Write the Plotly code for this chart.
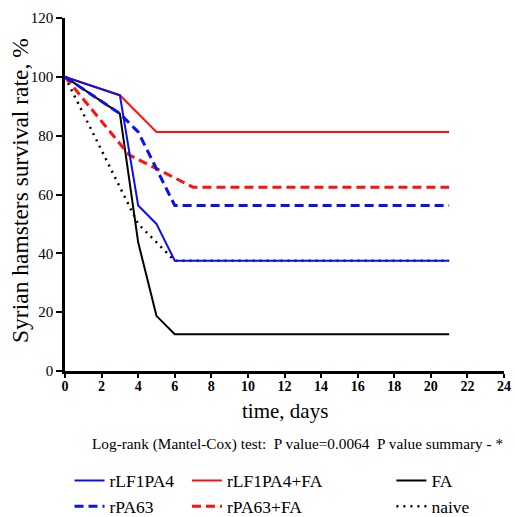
import plotly.graph_objects as go

# Survival curves (days, % surviving)
lf_days = [0, 3, 4, 5, 6, 21]
lf_surv = [100, 93.75, 56.25, 50, 37.5, 37.5]

lf_fa_days = [0, 3, 5, 21]
lf_fa_surv = [100, 93.75, 81.25, 81.25]

pa_days = [0, 3, 4, 6, 21]
pa_surv = [100, 87.5, 81.25, 56.25, 56.25]

pa_fa_days = [0, 3.5, 7, 21]
pa_fa_surv = [100, 73.5, 62.5, 62.5]

fa_days = [0, 3, 4, 5, 6, 21]
fa_surv = [100, 87.5, 43.75, 18.75, 12.5, 12.5]

naive_days = [0, 4, 6, 21]
naive_surv = [100, 50, 37.5, 37.5]

x_ticks = list(range(0, 25, 2))
y_ticks = list(range(0, 121, 20))

FONT = "Liberation Serif"
BLUE = "#0a10f0"
RED = "#ff1010"

fig = go.Figure()

def add(days, surv, name, color, width, dash, legend):
    fig.add_trace(go.Scatter(
        x=days, y=surv, name=name, mode="lines",
        line=dict(color=color, width=width, dash=dash),
        legend=legend, cliponaxis=False,
    ))

# draw order: dotted naive under the rest
add(naive_days, naive_surv, "naive", "black", 2.5, "2px,5px", "legend3")
add(fa_days, fa_surv, "FA", "black", 2, "solid", "legend3")
add(lf_fa_days, lf_fa_surv, "rLF1PA4+FA", RED, 2, "solid", "legend2")
add(pa_fa_days, pa_fa_surv, "rPA63+FA", RED, 3, "9px,5px", "legend2")
add(pa_days, pa_surv, "rPA63", BLUE, 3, "9px,5px", "legend")
add(lf_days, lf_surv, "rLF1PA4", BLUE, 2, "solid", "legend")


def legend_box(x, order):
    return dict(
        x=x, y=0.105, xref="container", yref="container",
        orientation="v", yanchor="top", xanchor="left",
        font=dict(family=FONT, size=17.5, color="black"),
        bgcolor="rgba(0,0,0,0)", borderwidth=0, tracegroupgap=0,
        traceorder=order,
    )


fig.update_layout(
    width=515, height=517,
    margin=dict(l=65, r=11, t=18, b=146, autoexpand=False),
    paper_bgcolor="white", plot_bgcolor="white",
    font=dict(family=FONT, color="black"),
    legend=legend_box(0.135, "reversed"),
    legend2=legend_box(0.363, "normal"),
    legend3=legend_box(0.76, "reversed"),
    xaxis=dict(
        range=[0, 24], tickvals=x_ticks, ticktext=[str(t) for t in x_ticks],
        showgrid=False, zeroline=False, showline=True, linecolor="black",
        linewidth=2.5, ticks="outside", ticklen=4, tickwidth=2,
        tickcolor="black", automargin=False, ticklabelstandoff=-4,
        tickfont=dict(family=FONT, size=14, color="black", weight="bold"),
    ),
    yaxis=dict(
        range=[0, 120], tickvals=y_ticks,
        showgrid=False, zeroline=False, showline=True, linecolor="black",
        linewidth=2.5, ticks="outside", ticklen=6, tickwidth=2,
        tickcolor="black", automargin=False,
        tickfont=dict(family=FONT, size=15, color="black"),
    ),
    annotations=[
        dict(text="Syrian hamsters survival rate, %",
             xref="paper", yref="paper", x=-0.1025, y=0.51, textangle=-90,
             xanchor="center", yanchor="middle", showarrow=False,
             font=dict(family=FONT, size=23.5, color="black")),
        dict(text="time, days",
             xref="paper", yref="paper", x=0.5, y=-0.112,
             xanchor="center", yanchor="middle", showarrow=False,
             font=dict(family=FONT, size=21, color="black")),
        dict(text="Log-rank (Mantel-Cox) test:  P value=0.0064  P value summary - *",
             xref="paper", yref="paper", x=0.056, y=-0.207,
             xanchor="left", yanchor="middle", showarrow=False,
             font=dict(family=FONT, size=15.3, color="black")),
    ],
)

fig.write_html("out.html")
